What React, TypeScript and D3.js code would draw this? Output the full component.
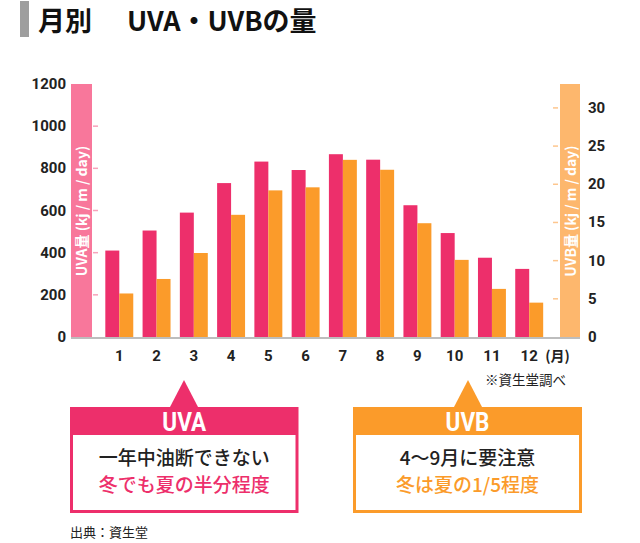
import React from "react";
import * as d3 from "d3";

const months = ["1", "2", "3", "4", "5", "6", "7", "8", "9", "10", "11", "12"];
const uva = [410, 505, 590, 730, 832, 792, 867, 841, 625, 493, 376, 323];
const uvb = [5.7, 7.6, 11.0, 16.0, 19.2, 19.6, 23.2, 21.9, 14.9, 10.1, 6.3, 4.5];
const leftTicks = [0, 200, 400, 600, 800, 1000, 1200];
const rightTicks = [0, 5, 10, 15, 20, 25, 30];

const C_UVA = "#ed2f6b";
const C_UVB = "#fb9b2a";
const C_BAND_L = "#f8779b";
const C_BAND_R = "#fdb76d";
const NUM = "Roboto, 'Noto Sans', sans-serif";
const JP = "'Noto Sans CJK JP', sans-serif";

export default function App() {
  const W = 640, H = 543;
  const y0 = 337;
  const x = d3.scaleBand<string>().domain(months).range([96, 552.5]).padding(0.25);
  const yL = d3.scaleLinear().domain([0, 1200]).range([y0, 84]);
  const yR = d3.scaleLinear().domain([0, 33]).range([y0, 85]);
  const bw = x.bandwidth() / 2;

  const callout = (x0: number, x1: number, apex: number, color: string, head: string, l1: string, l2: string) => {
    const top = 407, hb = 435, bot = 513;
    return (
      <g>
        <path d={`M${apex - 14},${top} L${apex},${380} L${apex + 14},${top} Z`} fill={color} />
        <rect x={x0} y={top} width={x1 - x0} height={bot - top} fill={color} />
        <rect x={x0 + 3} y={hb} width={x1 - x0 - 6} height={bot - hb - 3} fill="#fff" />
        <text x={(x0 + x1) / 2} y={431} textAnchor="middle" fill="#fff" fontFamily={NUM} fontWeight={700} fontSize={25} transform={`translate(${(x0 + x1) / 2 * 0.1},0) scale(0.9,1)`}>{head}</text>
        <text x={(x0 + x1) / 2} y={465} textAnchor="middle" fill="#222" fontFamily={JP} fontWeight={500} fontSize={19}>{l1}</text>
        <text x={(x0 + x1) / 2} y={492} textAnchor="middle" fill={color} fontFamily={JP} fontWeight={500} fontSize={19}>{l2}</text>
      </g>
    );
  };

  return (
    <svg width={W} height={H} style={{ position: "absolute", left: 0, top: 0, background: "#fff" }}>
      <rect x={20} y={1} width={9} height={36} fill="#9e9e9e" />
      <text x={38} y={31} fontFamily={JP} fontWeight={700} fontSize={27} fill="#111">月別</text>
      <text x={127} y={31} fontFamily={JP} fontWeight={700} fontSize={27} fill="#111">UVA・UVBの量</text>

      <rect x={71} y={84} width={21} height={y0 - 84} fill={C_BAND_L} />
      <rect x={560} y={84} width={20} height={y0 - 84} fill={C_BAND_R} />
      <text transform={`translate(87,211) rotate(-90)`} textAnchor="middle" fill="#fff" fontFamily={JP} fontWeight={700} fontSize={14}>UVA量 (kj / m / day)</text>
      <text transform={`translate(576,211) rotate(-90)`} textAnchor="middle" fill="#fff" fontFamily={JP} fontWeight={700} fontSize={14}>UVB量 (kj / m / day)</text>

      {leftTicks.map(t => (
        <g key={"l" + t}>
          {t > 0 && t < 1200 && <line x1={93} x2={98} y1={yL(t)} y2={yL(t)} stroke="#f7a3bb" strokeWidth={1.5} />}
          <text x={66} y={yL(t) + 5} textAnchor="end" fontFamily={NUM} fontWeight={700} fontSize={15} fill="#222">{t}</text>
        </g>
      ))}
      {rightTicks.map(t => (
        <g key={"r" + t}>
          {t > 0 && <line x1={553} x2={558} y1={yR(t)} y2={yR(t)} stroke="#fdc68e" strokeWidth={1.5} />}
          <text x={588} y={yR(t) + 5} textAnchor="start" fontFamily={NUM} fontWeight={700} fontSize={15} fill="#222">{t}</text>
        </g>
      ))}

      {months.map((m, i) => (
        <g key={m}>
          <rect x={x(m)!} y={yL(uva[i])} width={bw} height={y0 - yL(uva[i])} fill={C_UVA} />
          <rect x={x(m)! + bw} y={yR(uvb[i])} width={bw} height={y0 - yR(uvb[i])} fill={C_UVB} />
          <text x={x(m)! + bw} y={361} textAnchor="middle" fontFamily={NUM} fontWeight={700} fontSize={15} fill="#222">{m}</text>
        </g>
      ))}
      <text x={x("12")! + 2 * bw + 2} y={361} fontFamily={JP} fontWeight={700} fontSize={14} fill="#222">(月)</text>
      <line x1={71} x2={580} y1={y0 + 1} y2={y0 + 1} stroke="#bdbdbd" strokeWidth={2} />

      <text x={485} y={385} fontFamily={JP} fontSize={13.5} fill="#222">※資生堂調べ</text>

      {callout(70, 298.5, 184, C_UVA, "UVA", "一年中油断できない", "冬でも夏の半分程度")}
      {callout(353, 582, 468, C_UVB, "UVB", "4〜9月に要注意", "冬は夏の1/5程度")}

      <text x={70} y={537} fontFamily={JP} fontSize={13} fill="#222">出典：資生堂</text>
    </svg>
  );
}
